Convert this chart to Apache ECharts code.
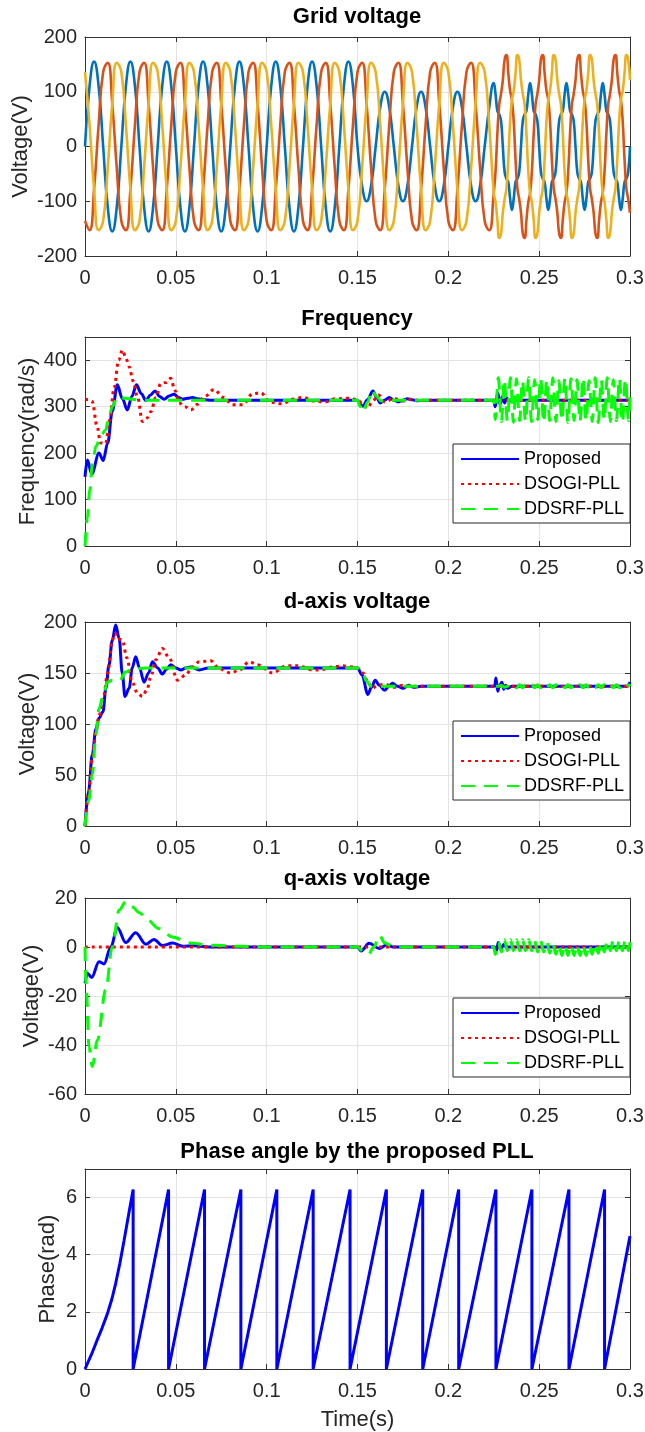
<!DOCTYPE html>
<html style="height: 100%">
<head>
    <meta charset="utf-8">
    <script type="text/javascript" src="https://cdn.jsdelivr.net/npm/echarts@6/dist/echarts.min.js"></script>
</head>
<body style="height: 100%; margin: 0; background: #fff">
    <div id="pllChart" style="height: 1432px; width: 645px;"></div>

    <script type="text/javascript">
        // ---- grid voltage: sample times and the three phases ----
        var tGrid = [
            0, 0.0025, 0.005, 0.0075, 0.01, 0.0125, 0.015, 0.0175,
            0.02, 0.0225, 0.025, 0.0275, 0.03, 0.0325, 0.035, 0.0375,
            0.04, 0.0425, 0.045, 0.0475, 0.05, 0.0525, 0.055, 0.0575,
            0.06, 0.0625, 0.065, 0.0675, 0.07, 0.0725, 0.075, 0.0775,
            0.08, 0.0825, 0.085, 0.0875, 0.09, 0.0925, 0.095, 0.0975,
            0.1, 0.1025, 0.105, 0.1075, 0.11, 0.1125, 0.115, 0.1175,
            0.12, 0.1225, 0.125, 0.1275, 0.13, 0.1325, 0.135, 0.1375,
            0.14, 0.1425, 0.145, 0.1475, 0.15, 0.1525, 0.155, 0.1575,
            0.16, 0.1625, 0.165, 0.1675, 0.17, 0.1725, 0.175, 0.1775,
            0.18, 0.1825, 0.185, 0.1875, 0.19, 0.1925, 0.195, 0.1975,
            0.2, 0.2025, 0.205, 0.2075, 0.21, 0.2125, 0.215, 0.2175,
            0.22, 0.2225,
            0.225, 0.226, 0.227, 0.228, 0.229, 0.23, 0.231, 0.232, 0.233, 0.234,
            0.235, 0.236, 0.237, 0.238, 0.239, 0.24, 0.241, 0.242, 0.243, 0.244,
            0.245, 0.246, 0.247, 0.248, 0.249, 0.25, 0.251, 0.252, 0.253, 0.254,
            0.255, 0.256, 0.257, 0.258, 0.259, 0.26, 0.261, 0.262, 0.263, 0.264,
            0.265, 0.266, 0.267, 0.268, 0.269, 0.27, 0.271, 0.272, 0.273, 0.274,
            0.275, 0.276, 0.277, 0.278, 0.279, 0.28, 0.281, 0.282, 0.283, 0.284,
            0.285, 0.286, 0.287, 0.288, 0.289, 0.29, 0.291, 0.292, 0.293, 0.294,
            0.295, 0.296, 0.297, 0.298, 0.299, 0.3
        ];
        var vPhaseA = [
            0, 110, 155, 110, 0, -110, -155, -110,
            0, 110, 155, 110, 0, -110, -155, -110,
            0, 110, 155, 110, 0, -110, -155, -110,
            0, 110, 155, 110, 0, -110, -155, -110,
            0, 110, 155, 110, 0, -110, -155, -110,
            0, 110, 155, 110, 0, -110, -155, -110,
            0, 110, 155, 110, 0, -110, -155, -110,
            0, 110, 155, 110,
            0, -71, -100, -71, 0, 71, 100, 71,
            0, -71, -100, -71, 0, 71, 100, 71,
            0, -71, -100, -71, 0, 71, 100, 71,
            0, -71, -100, -71, 0, 71,
            116, 95, 65, 59, 47, 0, -47, -59, -65, -95, -116, -95, -65, -59, -47, 0, 47, 59, 65, 95,
            116, 95, 65, 59, 47, 0, -47, -59, -65, -95, -116, -95, -65, -59, -47, 0, 47, 59, 65, 95,
            116, 95, 65, 59, 47, 0, -47, -59, -65, -95, -116, -95, -65, -59, -47, 0, 47, 59, 65, 95,
            116, 95, 65, 59, 47, 0, -47, -59, -65, -95, -116, -95, -65, -59, -47, 0
        ];
        var vPhaseB = [
            -136, -153, -78, 40, 136, 153, 78, -40,
            -136, -153, -78, 40, 136, 153, 78, -40,
            -136, -153, -78, 40, 136, 153, 78, -40,
            -136, -153, -78, 40, 136, 153, 78, -40,
            -136, -153, -78, 40, 136, 153, 78, -40,
            -136, -153, -78, 40, 136, 153, 78, -40,
            -136, -153, -78, 40, 136, 153, 78, -40,
            -136, -153, -78, 40, 136, 153, 78, -40,
            -136, -153, -78, 40, 136, 153, 78, -40,
            -136, -153, -78, 40, 136, 153, 78, -40,
            -136, -153, -78, 40, 136, 153, 78, -40,
            -136, -153,
            -85, -45, 24, 76, 96, 121, 159, 167, 134, 102, 85, 45, -24, -76, -96, -121, -159, -167, -134, -102,
            -85, -45, 24, 76, 96, 121, 159, 167, 134, 102, 85, 45, -24, -76, -96, -121, -159, -167, -134, -102,
            -85, -45, 24, 76, 96, 121, 159, 167, 134, 102, 85, 45, -24, -76, -96, -121, -159, -167, -134, -102,
            -85, -45, 24, 76, 96, 121, 159, 167, 134, 102, 85, 45, -24, -76, -96, -121
        ];
        var vPhaseC = [
            136, 40, -78, -153, -136, -40, 78, 153,
            136, 40, -78, -153, -136, -40, 78, 153,
            136, 40, -78, -153, -136, -40, 78, 153,
            136, 40, -78, -153, -136, -40, 78, 153,
            136, 40, -78, -153, -136, -40, 78, 153,
            136, 40, -78, -153, -136, -40, 78, 153,
            136, 40, -78, -153, -136, -40, 78, 153,
            136, 40, -78, -153, -136, -40, 78, 153,
            136, 40, -78, -153, -136, -40, 78, 153,
            136, 40, -78, -153, -136, -40, 78, 153,
            136, 40, -78, -153, -136, -40, 78, 153,
            136, 40,
            -85, -102, -134, -167, -159, -121, -96, -76, -24, 45, 85, 102, 134, 167, 159, 121, 96, 76, 24, -45,
            -85, -102, -134, -167, -159, -121, -96, -76, -24, 45, 85, 102, 134, 167, 159, 121, 96, 76, 24, -45,
            -85, -102, -134, -167, -159, -121, -96, -76, -24, 45, 85, 102, 134, 167, 159, 121, 96, 76, 24, -45,
            -85, -102, -134, -167, -159, -121, -96, -76, -24, 45, 85, 102, 134, 167, 159, 121
        ];

        // times of the fast oscillation after the harmonic step (0.225 s)
        var tOsc = [
            0.2258, 0.2275, 0.2292, 0.2308, 0.2325, 0.2342, 0.2358, 0.2375, 0.2392,
            0.2408, 0.2425, 0.2442, 0.2458, 0.2475, 0.2492, 0.2508, 0.2525, 0.2542, 0.2558, 0.2575,
            0.2592, 0.2608, 0.2625, 0.2642, 0.2658, 0.2675, 0.2692, 0.2708, 0.2725, 0.2742,
            0.2758, 0.2775, 0.2792, 0.2808, 0.2825, 0.2842, 0.2858, 0.2875, 0.2892, 0.2908,
            0.2925, 0.2942, 0.2958, 0.2975, 0.2992
        ];

        // ---- frequency (rad/s) ----
        var freqProposed = [
            [0, 149], [0.0013, 185], [0.0037, 155], [0.0077, 200], [0.01, 184], [0.0125, 222],
            [0.015, 290], [0.0178, 347], [0.0205, 318], [0.0233, 293], [0.0258, 322], [0.0283, 347],
            [0.031, 328], [0.0335, 313], [0.036, 325], [0.0386, 334], [0.041, 322], [0.0436, 316],
            [0.0463, 323], [0.049, 327], [0.0515, 320], [0.0537, 316], [0.0565, 318], [0.0592, 320],
            [0.062, 317], [0.065, 315], [0.07, 314], [0.15, 314], [0.1515, 305], [0.153, 301],
            [0.1555, 315], [0.1585, 334], [0.1605, 320], [0.1625, 308], [0.1648, 314], [0.1675, 320],
            [0.17, 314], [0.1725, 310], [0.175, 314], [0.1775, 317], [0.18, 315], [0.1825, 313],
            [0.186, 314], [0.225, 314], [0.2258, 300], [0.2272, 330], [0.2285, 305], [0.2298, 322],
            [0.231, 308], [0.2322, 318], [0.2335, 312], [0.236, 314], [0.3, 314]
        ];
        var freqDsogi = [
            [0, 316], [0.002, 315], [0.004, 311], [0.0065, 260], [0.0086, 222], [0.0114, 221],
            [0.0135, 270], [0.016, 340], [0.0185, 400], [0.0206, 422], [0.0225, 405], [0.0243, 386],
            [0.0265, 355], [0.0289, 321], [0.0316, 268], [0.034, 275], [0.0362, 289], [0.039, 320],
            [0.0417, 350], [0.0445, 352], [0.0472, 361], [0.0495, 335], [0.0518, 308], [0.055, 300],
            [0.0583, 293], [0.062, 305], [0.0656, 321], [0.0711, 337], [0.076, 320], [0.0813, 304],
            [0.0868, 304], [0.0923, 328], [0.0969, 330], [0.1015, 310], [0.1088, 306], [0.114, 316],
            [0.12, 320], [0.126, 312], [0.132, 310], [0.138, 317], [0.145, 318], [0.15, 315],
            [0.153, 305], [0.1555, 297], [0.158, 310], [0.1615, 325], [0.165, 310], [0.17, 318],
            [0.175, 312], [0.18, 316], [0.185, 313], [0.19, 314], [0.3, 314]
        ];
        var freqDdsrf = [
            [0, 0], [0.0013, 60], [0.0026, 120], [0.004, 175], [0.006, 215], [0.009, 240],
            [0.0114, 250], [0.013, 275], [0.015, 300], [0.0178, 321], [0.0224, 318], [0.026, 316],
            [0.03, 314], [0.15, 314], [0.1515, 300], [0.153, 288], [0.1555, 310], [0.158, 336],
            [0.1605, 322], [0.163, 312], [0.166, 314], [0.225, 314]
        ];
        var freqDdsrfOsc = [
            272, 362, 268, 358, 270, 362, 266, 360, 270, 356,
            268, 362, 268, 358, 272, 362, 266, 358, 270, 362,
            268, 356, 270, 362, 266, 360, 270, 358, 268, 362,
            270, 356, 268, 362, 266, 358, 272, 362, 268, 358,
            270, 362, 266, 360, 270
        ];
        var freqDdsrfEnd = [[0.3, 330]];

        // ---- d-axis voltage (V) ----
        var vdProposed = [
            [0, 0], [0.002, 35], [0.004, 70], [0.006, 95], [0.0077, 106], [0.0099, 112],
            [0.0115, 135], [0.0132, 158], [0.015, 182], [0.0169, 197], [0.0188, 184], [0.0205, 150],
            [0.022, 127], [0.0243, 135], [0.026, 155], [0.0279, 166], [0.03, 155], [0.0325, 141],
            [0.035, 150], [0.0371, 161], [0.04, 155], [0.0426, 149], [0.045, 154], [0.0472, 158],
            [0.05, 155], [0.0528, 153], [0.0555, 155], [0.0583, 156], [0.0629, 153], [0.068, 155],
            [0.15, 155], [0.1525, 148], [0.1557, 129], [0.1577, 136], [0.1597, 143], [0.162, 138],
            [0.165, 133], [0.1672, 137], [0.1693, 140], [0.172, 137], [0.175, 135], [0.178, 138],
            [0.181, 136], [0.185, 137], [0.2255, 137], [0.2262, 145], [0.2272, 132], [0.228, 137],
            [0.2295, 141], [0.2305, 134], [0.2315, 138], [0.2325, 135], [0.235, 137], [0.2985, 137],
            [0.3, 141]
        ];
        var vdDsogi = [
            [0, 0], [0.002, 33], [0.004, 68], [0.006, 92], [0.0077, 108], [0.01, 125],
            [0.0125, 150], [0.015, 182], [0.0165, 189], [0.0178, 184], [0.0206, 182], [0.023, 165],
            [0.026, 141], [0.0289, 130], [0.0316, 127], [0.034, 133], [0.0362, 146], [0.039, 163],
            [0.0426, 174], [0.0463, 165], [0.0509, 143], [0.0555, 148], [0.059, 156], [0.0629, 161],
            [0.0693, 162], [0.0739, 154], [0.0803, 150], [0.085, 153], [0.0904, 161], [0.095, 158],
            [0.1033, 150], [0.1107, 157], [0.118, 157], [0.125, 153], [0.13, 153], [0.136, 156],
            [0.142, 157], [0.147, 156], [0.15, 155], [0.153, 150], [0.156, 140], [0.158, 135],
            [0.161, 138], [0.165, 139], [0.17, 136], [0.175, 138], [0.18, 137], [0.3, 137]
        ];
        var vdDdsrf = [
            [0, 0], [0.002, 25], [0.004, 50], [0.006, 90], [0.0077, 115], [0.0099, 127],
            [0.0123, 141], [0.015, 143], [0.0188, 142], [0.0224, 151], [0.026, 154], [0.0335, 155],
            [0.15, 155], [0.1525, 152], [0.155, 142], [0.1575, 137], [0.16, 136], [0.165, 137],
            [0.225, 137]
        ];
        var vdDdsrfOsc = [
            137, 137, 138, 136, 137, 136,
            138.5, 135.5, 138.5, 135.5, 138.5, 135.5, 138.5, 135.5, 138.5, 135.5,
            138.5, 135.5, 138.5, 135.5, 138.5, 135.5, 138.5, 135.5, 138.5, 135.5,
            138.5, 135.5, 138.5, 135.5, 138.5, 135.5, 138.5, 135.5, 138.5, 135.5,
            138.5, 135.5, 138.5, 135.5, 138.5, 135.5, 138.5, 135.5, 138.5
        ];
        var vdDdsrfEnd = [[0.3, 137]];

        // ---- q-axis voltage (V) ----
        var vqProposed = [
            [0, -14.8], [0.0013, -10.7], [0.0037, -12.4], [0.0077, -6], [0.0105, -6.9], [0.0142, 0],
            [0.0178, 8], [0.0224, 1.8], [0.0279, 5.8], [0.0335, 1.1], [0.038, 3.1], [0.0426, 0.6],
            [0.0482, 1.6], [0.0537, 0.3], [0.06, 0.5], [0.07, 0], [0.15, 0], [0.152, -1.6],
            [0.1564, 1.5], [0.162, -0.6], [0.166, 0.8], [0.17, 0], [0.2255, 0], [0.2265, -1.5],
            [0.2275, 1.8], [0.229, -0.8], [0.2305, 1], [0.232, 0], [0.3, 0]
        ];
        var vqDsogi = [[0, 0], [0.3, 0]];
        var vqDdsrf = [
            [0, 0], [0.0007, -17.5], [0.0022, -40.7], [0.004, -48.8], [0.0068, -38], [0.0114, -17.5],
            [0.015, 0], [0.0188, 15.1], [0.0224, 18.5], [0.026, 16.3], [0.03, 14], [0.0335, 11.6],
            [0.0408, 7.5], [0.0482, 4.1], [0.0574, 1.6], [0.0702, 0.7], [0.085, 0.3], [0.1, 0],
            [0.15, 0], [0.153, -1.7], [0.156, -3], [0.159, 0], [0.162, 4.8], [0.165, 1.6],
            [0.17, 0], [0.225, 0]
        ];
        var vqDdsrfOsc = [
            -3, 2, -2, 3, -1.5, 3, -1.5, 3, -1.5, 3,
            -1.5, 3, -1.5, 2.5, -2, 2.5, -2, 2, -2.5, 1.5,
            -3, 1, -3.5, 1, -3.5, 1, -3.5, 1, -3.5, 1,
            -3.5, 1, -3, 1.5, -2.5, 2, -2, 2.5, -1.5, 3,
            -1.5, 3, -1.5, 3, -1.5
        ];
        var vqDdsrfEnd = [[0.3, 2]];

        // ---- phase angle of the proposed PLL (rad) ----
        var phaseProposed = [
            [0, 0], [0.0035, 0.5], [0.0066, 1.0], [0.0095, 1.45], [0.0123, 1.93], [0.0148, 2.45],
            [0.0169, 3.0], [0.0192, 3.7], [0.0215, 4.5], [0.024, 5.4], [0.0265, 6.28],
            [0.0265, 0], [0.046, 6.28], [0.046, 0], [0.0658, 6.28], [0.0658, 0], [0.0858, 6.28],
            [0.0858, 0], [0.1056, 6.28], [0.1056, 0], [0.1256, 6.28], [0.1256, 0], [0.1459, 6.28],
            [0.1459, 0], [0.1659, 6.28], [0.1659, 0], [0.1859, 6.28], [0.1859, 0], [0.2057, 6.28],
            [0.2057, 0], [0.2262, 6.28], [0.2262, 0], [0.246, 6.28], [0.246, 0], [0.2664, 6.28],
            [0.2664, 0], [0.286, 6.28], [0.286, 0], [0.3, 4.65]
        ];

        var plotTitles = ['Grid voltage', 'Frequency', 'd-axis voltage', 'q-axis voltage', 'Phase angle by the proposed PLL'];
        var yNames = ['Voltage(V)', 'Frequency(rad/s)', 'Voltage(V)', 'Voltage(V)', 'Phase(rad)'];
        var yMin = [-200, 0, 0, -60, 0];
        var yMax = [200, 450, 200, 20, 7];
        var yStep = [100, 100, 50, 20, 2];
        var legendNames = ['Proposed', 'DSOGI-PLL', 'DDSRF-PLL'];

        function zip(t, v) {
            return t.map(function (x, i) { return [x, v[i]]; });
        }

        var fontName = '"Liberation Sans", Arial, sans-serif';
        var axisColor = '#333333';
        var gridTop = [37, 337, 622, 898, 1169];
        var gridHeight = [219, 209, 204, 196, 200];
        var titleY = [6, 308, 591, 868, 1141];
        var nameGaps = [53, 46, 46, 42, 26];

        var pllChart = echarts.init(document.getElementById('pllChart'));

        var grids = [], xAxes = [], yAxes = [], titles = [];
        for (var i = 0; i < 5; i++) {
            grids.push({
                left: 85, right: 15, top: gridTop[i], height: gridHeight[i],
                containLabel: false, outerBoundsMode: 'none'
            });
            titles.push({
                text: plotTitles[i], left: 357, top: titleY[i], textAlign: 'center', padding: 0,
                textStyle: { fontSize: 22, fontWeight: 'bold', color: '#000', fontFamily: fontName }
            });
            // bottom axis
            xAxes.push({
                type: 'value', gridIndex: i, min: 0, max: 0.3, interval: 0.05, position: 'bottom',
                name: i === 4 ? 'Time(s)' : '', nameLocation: 'middle', nameGap: 40, nameMoveOverlap: false,
                nameTextStyle: { fontSize: 22, color: '#262626', fontFamily: fontName },
                axisLine: { onZero: false, lineStyle: { color: axisColor, width: 1 } },
                axisTick: { inside: true, length: 5, lineStyle: { color: axisColor } },
                axisLabel: { fontSize: 20, color: '#262626', margin: 12, fontFamily: fontName },
                splitLine: { show: true, lineStyle: { color: '#e3e3e3', width: 1 } }
            });
            // top box edge
            xAxes.push({
                type: 'value', gridIndex: i, min: 0, max: 0.3, interval: 0.05, position: 'top',
                axisLine: { onZero: false, lineStyle: { color: axisColor, width: 1 } },
                axisTick: { inside: true, length: 5, lineStyle: { color: axisColor } },
                axisLabel: { show: false }, splitLine: { show: false }
            });
            yAxes.push({
                type: 'value', gridIndex: i, min: yMin[i], max: yMax[i], interval: yStep[i], position: 'left',
                name: yNames[i], nameLocation: 'middle', nameGap: nameGaps[i], nameMoveOverlap: false,
                nameTextStyle: { fontSize: 22, color: '#262626', fontFamily: fontName },
                axisLine: { show: true, onZero: false, lineStyle: { color: axisColor, width: 1 } },
                axisTick: { show: true, inside: true, length: 5, lineStyle: { color: axisColor } },
                axisLabel: { fontSize: 20, color: '#262626', margin: 8, fontFamily: fontName, showMaxLabel: (i === 1 || i === 4) ? false : true },
                splitLine: { show: true, lineStyle: { color: '#e3e3e3', width: 1 } }
            });
            yAxes.push({
                type: 'value', gridIndex: i, min: yMin[i], max: yMax[i], interval: yStep[i], position: 'right',
                axisLine: { show: true, onZero: false, lineStyle: { color: axisColor, width: 1 } },
                axisTick: { show: true, inside: true, length: 5, lineStyle: { color: axisColor } },
                axisLabel: { show: false }, splitLine: { show: false }
            });
        }

        function pllSeries(idx, proposed, dsogi, ddsrf) {
            return [
                {
                    name: 'Proposed', type: 'line', xAxisIndex: 2 * idx, yAxisIndex: 2 * idx, data: proposed,
                    showSymbol: false, symbol: 'none', smooth: 0.35, smoothMonotone: 'x',
                    lineStyle: { color: '#0000ff', width: 3 }, itemStyle: { color: '#0000ff' }
                },
                {
                    name: 'DSOGI-PLL', type: 'line', xAxisIndex: 2 * idx, yAxisIndex: 2 * idx, data: dsogi,
                    showSymbol: false, symbol: 'none', smooth: 0.35, smoothMonotone: 'x',
                    lineStyle: { color: '#ff0000', width: 3, type: [3, 4] }, itemStyle: { color: '#ff0000' }
                },
                {
                    name: 'DDSRF-PLL', type: 'line', xAxisIndex: 2 * idx, yAxisIndex: 2 * idx, data: ddsrf,
                    showSymbol: false, symbol: 'none', smooth: 0.35, smoothMonotone: 'x',
                    lineStyle: { color: '#00ff00', width: 3, type: [14, 9] }, itemStyle: { color: '#00ff00' }
                }
            ];
        }

        var series = [
            {
                name: 'Va', type: 'line', xAxisIndex: 0, yAxisIndex: 0, data: zip(tGrid, vPhaseA),
                symbol: 'none', smooth: 0.5, lineStyle: { color: '#0072bd', width: 2.6 }
            },
            {
                name: 'Vb', type: 'line', xAxisIndex: 0, yAxisIndex: 0, data: zip(tGrid, vPhaseB),
                symbol: 'none', smooth: 0.5, lineStyle: { color: '#d95319', width: 2.6 }
            },
            {
                name: 'Vc', type: 'line', xAxisIndex: 0, yAxisIndex: 0, data: zip(tGrid, vPhaseC),
                symbol: 'none', smooth: 0.5, lineStyle: { color: '#edb120', width: 2.6 }
            }
        ];
        series = series.concat(pllSeries(1, freqProposed, freqDsogi,
            freqDdsrf.concat(zip(tOsc, freqDdsrfOsc), freqDdsrfEnd)));
        series = series.concat(pllSeries(2, vdProposed, vdDsogi,
            vdDdsrf.concat(zip(tOsc, vdDdsrfOsc), vdDdsrfEnd)));
        series = series.concat(pllSeries(3, vqProposed, vqDsogi,
            vqDdsrf.concat(zip(tOsc, vqDdsrfOsc), vqDdsrfEnd)));
        series.push({
            name: 'Phase', type: 'line', xAxisIndex: 8, yAxisIndex: 8, data: phaseProposed,
            symbol: 'none', lineStyle: { color: '#0000ff', width: 3 }
        });

        // legend boxes of the three comparison plots
        var legendTops = [444, 721, 998];
        var legends = legendTops.map(function (top) {
            return {
                data: legendNames, orient: 'vertical', left: 453, top: top,
                backgroundColor: '#fff', borderColor: '#262626', borderWidth: 1,
                padding: [6, 6, 5, 7], itemGap: 7, itemWidth: 58, itemHeight: 14,
                selectedMode: false,
                itemStyle: { opacity: 0 },
                textStyle: { fontSize: 18, color: '#000', fontFamily: fontName }
            };
        });

        var pllOption = {
            animation: false,
            backgroundColor: '#fff',
            textStyle: { fontFamily: fontName },
            title: titles,
            legend: legends,
            grid: grids,
            xAxis: xAxes,
            yAxis: yAxes,
            series: series
        };

        pllChart.setOption(pllOption);
    </script>
</body>
</html>
